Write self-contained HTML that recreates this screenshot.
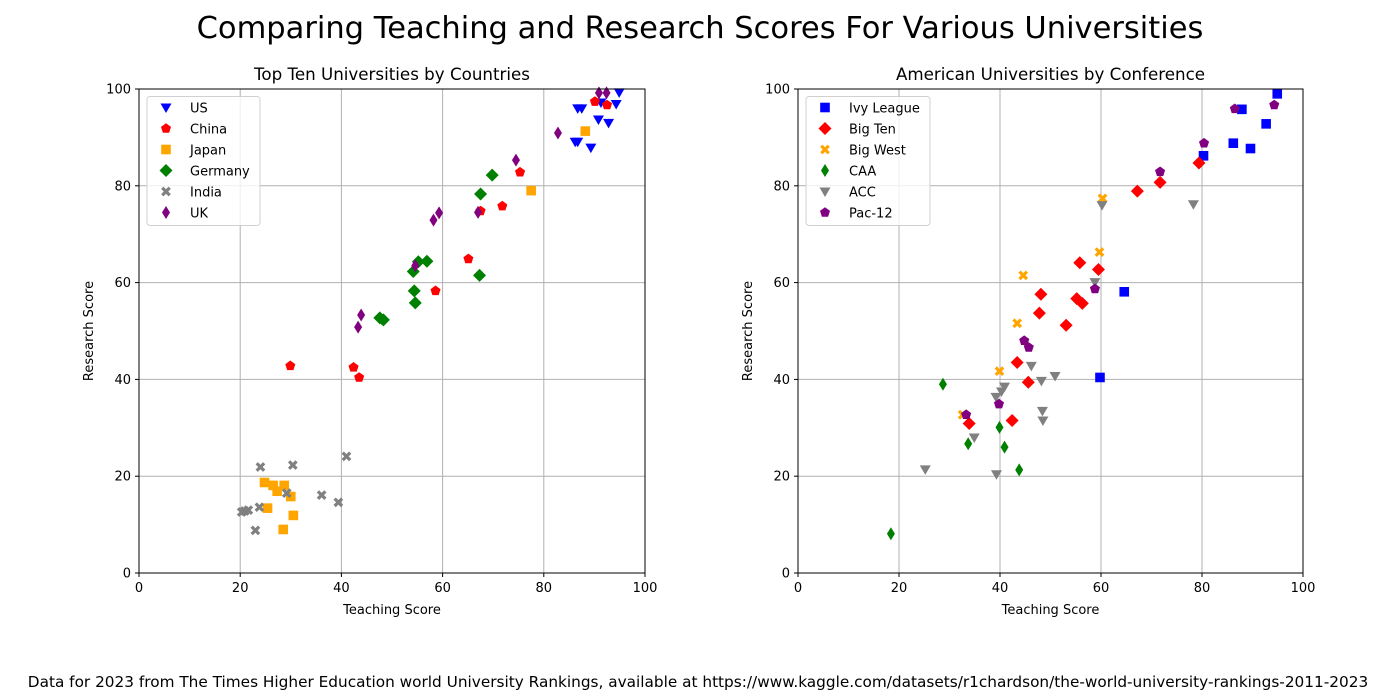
<!DOCTYPE html>
<html><head><meta charset="utf-8"><style>
body{margin:0;background:#fff}
svg{display:block;font-family:"DejaVu Sans","Liberation Sans",sans-serif}
</style></head><body>
<svg id="fig" width="1400" height="700" viewBox="0 0 1400 700">
<text x="700" y="38" text-anchor="middle" font-size="30.5">Comparing Teaching and Research Scores For Various Universities</text>
<text x="698" y="687" text-anchor="middle" font-size="15.3">Data for 2023 from The Times Higher Education world University Rankings, available at https://www.kaggle.com/datasets/r1chardson/the-world-university-rankings-2011-2023</text>
</svg>
<script>
// Left chart data
const leftSeries = ["US","China","Japan","Germany","India","UK"];
const usX = [86.7,87.5,94.9,91.3,94.3,90.8,92.8,86.2,86.7,89.3];
const usY = [96.0,96.0,99.3,97.2,96.9,93.7,93.0,89.1,89.1,87.9];
const chinaX = [90.1,92.5,75.3,71.8,67.5,65.1,58.6,29.9,42.4,43.5];
const chinaY = [97.4,96.7,82.8,75.8,74.8,64.9,58.3,42.8,42.5,40.4];
const japanX = [88.2,77.5,24.8,26.5,28.7,27.3,30.0,25.4,30.5,28.5];
const japanY = [91.3,79.0,18.7,18.1,18.1,16.9,15.8,13.4,11.9,9.0];
const germanyX = [69.8,67.5,56.9,55.2,54.2,67.3,54.4,54.6,48.3,47.6];
const germanyY = [82.2,78.3,64.4,64.3,62.3,61.5,58.3,55.8,52.3,52.7];
const indiaX = [24.0,30.4,41.0,29.2,36.1,39.4,23.8,21.6,20.3,20.9,23.0];
const indiaY = [21.9,22.3,24.1,16.5,16.1,14.6,13.6,13.0,12.6,12.8,8.8];
const ukX = [74.5,59.3,58.2,67.0,54.6,82.8,43.9,43.3,90.9,92.4];
const ukY = [85.3,74.4,72.9,74.5,63.5,90.9,53.3,50.8,99.2,99.2];
// Right chart data
const rightSeries = ["Ivy League","Big Ten","Big West","CAA","ACC","Pac-12"];
const ivyX = [94.9,87.9,92.7,86.2,89.6,80.3,64.6,59.8];
const ivyY = [99.0,95.8,92.8,88.8,87.7,86.2,58.1,40.4];
const bigTenX = [79.4,71.7,67.2,59.5,55.8,48.1,55.2,56.3,47.8,53.1,43.4,45.6,42.4,33.9];
const bigTenY = [84.7,80.7,78.9,62.7,64.1,57.6,56.7,55.7,53.7,51.2,43.5,39.4,31.5,30.9];
const bigWestX = [60.3,59.7,44.6,43.4,39.9,32.6];
const bigWestY = [77.4,66.3,61.5,51.6,41.7,32.7];
const caaX = [28.7,39.9,33.7,40.9,43.8,18.4];
const caaY = [39.0,30.1,26.7,26.0,21.3,8.1];
const accX = [60.2,78.3,58.8,46.2,48.2,50.9,40.9,40.3,39.2,48.4,48.5,34.9,25.2,39.3];
const accY = [76.0,76.2,60.1,42.8,39.7,40.7,38.5,37.5,36.4,33.5,31.5,28.0,21.4,20.4];
const pacX = [94.3,86.5,80.4,71.7,58.8,44.8,45.7,39.8,33.3];
const pacY = [96.7,95.9,88.8,82.9,58.7,48.0,46.6,34.9,32.7];
const ticks = [0,20,40,60,80,100];

const NS="http://www.w3.org/2000/svg";
const svg=document.getElementById('fig');
function mk(tag,attrs,parent){const e=document.createElementNS(NS,tag);for(const k in attrs)e.setAttribute(k,attrs[k]);(parent||svg).appendChild(e);return e;}

function marker(g,type,cx,cy,color){
  let e;
  if(type==='tri'){e=mk('polygon',{points:`${cx-5.5},${cy-4} ${cx+5.5},${cy-4} ${cx},${cy+5.5}`,fill:color},g);}
  else if(type==='pent'){let p=[];for(let i=0;i<5;i++){const a=-Math.PI/2+i*2*Math.PI/5;p.push((cx+5.3*Math.cos(a)).toFixed(1)+','+(cy+5.3*Math.sin(a)).toFixed(1));}e=mk('polygon',{points:p.join(' '),fill:color},g);}
  else if(type==='sq'){e=mk('rect',{x:cx-4.8,y:cy-4.8,width:9.6,height:9.6,fill:color},g);}
  else if(type==='dia'){e=mk('polygon',{points:`${cx},${cy-6.5} ${cx+6.5},${cy} ${cx},${cy+6.5} ${cx-6.5},${cy}`,fill:color},g);}
  else if(type==='thin'){e=mk('polygon',{points:`${cx},${cy-6.5} ${cx+4},${cy} ${cx},${cy+6.5} ${cx-4},${cy}`,fill:color},g);}
  else if(type==='x'){e=mk('path',{d:`M${cx-2.6},${cy-2.6}L${cx+2.6},${cy+2.6}M${cx+2.6},${cy-2.6}L${cx-2.6},${cy+2.6}`,stroke:color,'stroke-width':3.2,'stroke-linecap':'square'},g);}
  
  
  return e;
}

function chart(x0,x1,title,seriesNames,styles,xs,ys,legendW,prefix){
  const y0=89,y1=573;
  const sx=v=>x0+(v/100)*(x1-x0);
  const sy=v=>y1-(v/100)*(y1-y0);
  const g=mk('g',{});
  
  
  ticks.forEach(t=>{
    const gx=mk('line',{x1:sx(t),x2:sx(t),y1:y0,y2:y1,stroke:'#b0b0b0','stroke-width':1},g);
    
    
    const gy=mk('line',{x1:x0,x2:x1,y1:sy(t),y2:sy(t),stroke:'#b0b0b0','stroke-width':1},g);
    
    
    mk('line',{x1:sx(t),x2:sx(t),y1:y1,y2:y1+4,stroke:'#000'},g);
    mk('line',{x1:x0-4,x2:x0,y1:sy(t),y2:sy(t),stroke:'#000'},g);
    const tx=mk('text',{x:sx(t),y:y1+19,'text-anchor':'middle','font-size':13},g);tx.textContent=t;
    
    
    const ty=mk('text',{x:x0-8,y:sy(t)+4.5,'text-anchor':'end','font-size':13},g);ty.textContent=t;
    
    
  });
  seriesNames.forEach((n,i)=>{
    const sg=mk('g',{},g);
    
    
    xs[i].forEach((v,j)=>marker(sg,styles[i][0],sx(v),sy(ys[i][j]),styles[i][1]));
  });
  const fr=mk('rect',{x:x0,y:y0,width:x1-x0,height:y1-y0,fill:'none',stroke:'#000','stroke-width':1},g);
  
  
  const tt=mk('text',{x:(x0+x1)/2,y:80,'text-anchor':'middle','font-size':16.7},g);tt.textContent=title;
  
  
  const xl=mk('text',{x:(x0+x1)/2,y:614,'text-anchor':'middle','font-size':13},g);xl.textContent='Teaching Score';
  
  
  const yl=mk('text',{x:0,y:0,'text-anchor':'middle','font-size':13,transform:`translate(${x0-46},${(y0+y1)/2}) rotate(-90)`},g);yl.textContent='Research Score';
  
  
  const lg=mk('g',{},g);
  
  
  mk('rect',{x:x0+8,y:96.5,width:legendW,height:129,rx:3,fill:'#fff','fill-opacity':0.8,stroke:'#d0d0d0'},lg);
  seriesNames.forEach((n,i)=>{
    const ry=107.5+i*21;
    const eg=mk('g',{},lg);
    
    
    marker(eg,styles[i][0],x0+27,ry,styles[i][1]);
    const t=mk('text',{x:x0+51,y:ry+5,'font-size':13},eg);t.textContent=n;
  });
}
chart(139,645,'Top Ten Universities by Countries',leftSeries,
  [['tri','blue'],['pent','red'],['sq','orange'],['dia','green'],['x','gray'],['thin','purple']],
  [usX,chinaX,japanX,germanyX,indiaX,ukX],[usY,chinaY,japanY,germanyY,indiaY,ukY],113,'left');
chart(798,1303,'American Universities by Conference',rightSeries,
  [['sq','blue'],['dia','red'],['x','orange'],['thin','green'],['tri','gray'],['pent','purple']],
  [ivyX,bigTenX,bigWestX,caaX,accX,pacX],[ivyY,bigTenY,bigWestY,caaY,accY,pacY],124,'right');
</script>
</body></html>
